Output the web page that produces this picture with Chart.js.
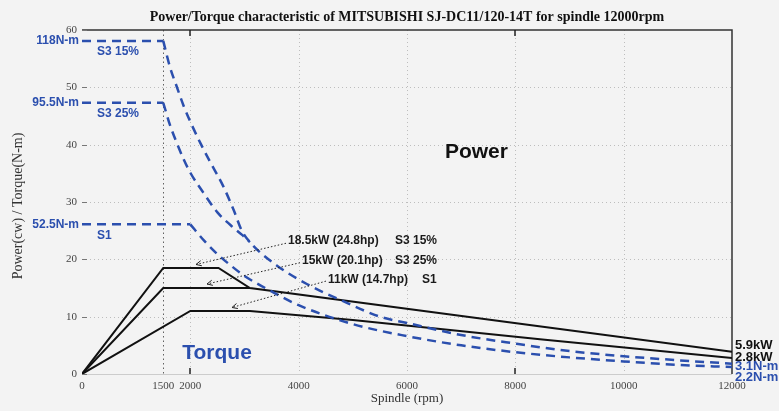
<!DOCTYPE html>
<html><head><meta charset="utf-8">
<script src="https://cdn.jsdelivr.net/npm/chart.js@4/dist/chart.umd.min.js"></script>
<style>html,body{margin:0;padding:0;background:#f3f3f3;}#wrap{width:779px;height:411px;position:relative;}canvas{display:block;}</style>
</head><body><div id="wrap"><canvas id="c" width="779" height="411" style="width:779px;height:411px"></canvas></div>
<script>
// ---- tick labels
const xTicks = [0, 1500, 2000, 4000, 6000, 8000, 10000, 12000];
const yTicks = [0, 10, 20, 30, 40, 50, 60];

// ---- power curves (kW) : rpm / value
const pwrRpmS3_15 = [0, 1500, 2520, 3100, 12000];
const pwrS3_15    = [0, 18.5, 18.5, 15.0, 3.9];
const pwrRpmS3_25 = [0, 1500, 3100];
const pwrS3_25    = [0, 15.0, 15.0];
const pwrRpmS1    = [0, 2000, 3100, 5000, 8500, 12000];
const pwrS1       = [0, 11.0, 11.0, 9.4, 6.0, 2.8];

// ---- torque curves (plotted on same axis, about N-m / 2)
const trqFlatRpmS3_15 = [0, 1500];
const trqFlatS3_15    = [58.1, 58.1];
const trqFlatRpmS3_25 = [0, 1500];
const trqFlatS3_25    = [47.3, 47.3];
const trqFlatRpmS1    = [0, 2000];
const trqFlatS1       = [26.1, 26.1];

const trqRpmS3_15 = [1500, 1625, 1750, 1875, 2000, 2200, 2400, 2600, 2800, 2950, 3100, 3600, 4150, 4800, 5500, 6000, 7000, 8000, 9000, 10000, 11000, 12000];
const trqS3_15    = [58.1, 53.5, 50.1, 46.8, 44.0, 40.0, 36.4, 32.9, 28.6, 25.0, 23.0, 18.9, 15.7, 12.8, 10.0, 8.9, 6.8, 5.3, 4.0, 3.1, 2.4, 1.8];
const trqRpmS3_25 = [1500, 1625, 1750, 1875, 2000, 2250, 2500, 2750, 2950, 3100];
const trqS3_25    = [47.3, 43.4, 40.3, 37.5, 35.1, 31.5, 28.2, 25.9, 24.3, 23.0];
const trqRpmS1    = [2000, 2250, 2500, 2750, 3000, 3500, 4000, 5000, 6000, 7000, 8000, 9000, 10000, 11000, 12000];
const trqS1       = [26.1, 23.3, 20.9, 18.9, 17.1, 14.4, 12.0, 8.7, 6.6, 5.0, 3.8, 2.9, 2.2, 1.6, 1.2];

const BLUE = '#2b4fae';
const zip = (xs, ys) => xs.map((x, i) => ({x: x, y: ys[i]}));

function blackLine(label, xs, ys) {
  return {label, data: zip(xs, ys), borderColor: '#111', borderWidth: 2, pointRadius: 0, tension: 0, order: 2};
}
function blueLine(label, xs, ys, curved) {
  return {label, data: zip(xs, ys), borderColor: BLUE, borderWidth: 2.5, borderDash: [9, 6], pointRadius: 0,
          cubicInterpolationMode: curved ? 'monotone' : 'default', tension: 0, order: 1};
}

const annotations = {
  leftLabels: [
    {text: '118N-m', y: 58.1, sub: 'S3 15%'},
    {text: '95.5N-m', y: 47.3, sub: 'S3 25%'},
    {text: '52.5N-m', y: 26.1, sub: 'S1'}
  ],
  arrows: [
    {label: '18.5kW (24.8hp)', tag: 'S3 15%', tagx: 5778, tx: 3803, ty: 23.2, ax: 3766, ay: 22.8, bx: 2105, by: 19.1},
    {label: '15kW (20.1hp)',   tag: 'S3 25%', tagx: 5778, tx: 4061, ty: 19.7, ax: 4024, ay: 19.4, bx: 2308, by: 15.7},
    {label: '11kW (14.7hp)',   tag: 'S1',     tagx: 6277, tx: 4541, ty: 16.5, ax: 4504, ay: 16.2, bx: 2769, by: 11.6}
  ],
  rightLabels: [
    {text: '5.9kW', color: '#111', dy: -29},
    {text: '2.8kW', color: '#111', dy: -17},
    {text: '3.1N-m', color: BLUE, dy: -8},
    {text: '2.2N-m', color: BLUE, dy: 3}
  ]
};

const decor = {
  id: 'decor',
  beforeDatasetsDraw(chart) {
    const {ctx, chartArea: a, scales: {x, y}} = chart;
    ctx.save();
    ctx.lineWidth = 1;
    ctx.setLineDash([1, 3]);
    ctx.strokeStyle = 'rgba(0,0,0,0.22)';
    xTicks.forEach(v => {
      if (v === 0 || v === 12000 || v === 1500) return;
      const px = Math.round(x.getPixelForValue(v)) + 0.5;
      ctx.beginPath(); ctx.moveTo(px, a.top); ctx.lineTo(px, a.bottom); ctx.stroke();
    });
    yTicks.forEach(v => {
      if (v === 0 || v === 60) return;
      const py = Math.round(y.getPixelForValue(v)) + 0.5;
      ctx.beginPath(); ctx.moveTo(a.left, py); ctx.lineTo(a.right, py); ctx.stroke();
    });
    ctx.strokeStyle = 'rgba(0,0,0,0.6)';
    ctx.setLineDash([1.5, 3]);
    const p15 = Math.round(x.getPixelForValue(1500)) + 0.5;
    ctx.beginPath(); ctx.moveTo(p15, a.top); ctx.lineTo(p15, a.bottom); ctx.stroke();
    ctx.setLineDash([]);
    // frame
    ctx.strokeStyle = '#333'; ctx.lineWidth = 1.5;
    ctx.beginPath(); ctx.moveTo(a.left, a.top); ctx.lineTo(a.right, a.top); ctx.lineTo(a.right, a.bottom); ctx.stroke();
    ctx.strokeStyle = '#ccc'; ctx.lineWidth = 1;
    ctx.beginPath(); ctx.moveTo(a.left, a.bottom + 0.5); ctx.lineTo(a.right, a.bottom + 0.5); ctx.stroke();
    // tick marks
    ctx.strokeStyle = '#222'; ctx.lineWidth = 1.5;
    [2000, 8000].forEach(v => {
      const px = Math.round(x.getPixelForValue(v));
      ctx.beginPath(); ctx.moveTo(px, a.top); ctx.lineTo(px, a.top + 6); ctx.stroke();
      ctx.beginPath(); ctx.moveTo(px, a.bottom); ctx.lineTo(px, a.bottom - 6); ctx.stroke();
    });
    ctx.strokeStyle = '#777'; ctx.lineWidth = 1;
    yTicks.forEach(v => {
      const py = Math.round(y.getPixelForValue(v)) + 0.5;
      ctx.beginPath(); ctx.moveTo(a.left, py); ctx.lineTo(a.left + 5, py); ctx.stroke();
    });
    ctx.restore();
  },
  afterDraw(chart) {
    const {ctx, chartArea: a, scales: {x, y}} = chart;
    ctx.save();
    ctx.textBaseline = 'middle';
    // title
    ctx.fillStyle = '#111';
    ctx.font = 'bold 14px "Liberation Serif", serif';
    ctx.textAlign = 'center';
    ctx.fillText('Power/Torque characteristic of MITSUBISHI SJ-DC11/120-14T for spindle 12000rpm', (a.left + a.right) / 2, 17);
    // axis titles
    ctx.fillStyle = '#333';
    ctx.font = '13px "Liberation Serif", serif';
    ctx.fillText('Spindle (rpm)', (a.left + a.right) / 2, 399);
    ctx.save();
    ctx.translate(18, 206); ctx.rotate(-Math.PI / 2);
    ctx.font = '14px "Liberation Serif", serif';
    ctx.fillText('Power(cw) / Torque(N-m)', 0, 0);
    ctx.restore();
    // left labels
    ctx.fillStyle = BLUE;
    ctx.font = 'bold 12px "Liberation Sans", Arial, sans-serif';
    annotations.leftLabels.forEach(l => {
      const py = y.getPixelForValue(l.y);
      ctx.textAlign = 'right';
      ctx.fillText(l.text, a.left - 3, py);
      ctx.textAlign = 'left';
      ctx.fillText(l.sub, a.left + 15, py + 11);
    });
    // big labels
    ctx.font = 'bold 21px "Liberation Sans", Arial, sans-serif';
    ctx.textAlign = 'left';
    ctx.fillStyle = '#111';
    ctx.fillText('Power', x.getPixelForValue(6700), y.getPixelForValue(38.7));
    ctx.fillStyle = BLUE;
    ctx.fillText('Torque', x.getPixelForValue(1850), y.getPixelForValue(3.7));
    // arrows
    annotations.arrows.forEach(ar => {
      ctx.fillStyle = '#1a1a1a';
      ctx.font = 'bold 12px "Liberation Sans", Arial, sans-serif';
      ctx.textAlign = 'left';
      ctx.fillText(ar.label, x.getPixelForValue(ar.tx), y.getPixelForValue(ar.ty));
      ctx.fillText(ar.tag, x.getPixelForValue(ar.tagx), y.getPixelForValue(ar.ty));
      const x1 = x.getPixelForValue(ar.ax), y1 = y.getPixelForValue(ar.ay);
      const x2 = x.getPixelForValue(ar.bx), y2 = y.getPixelForValue(ar.by);
      ctx.strokeStyle = '#222'; ctx.lineWidth = 1;
      ctx.setLineDash([1.5, 2]);
      ctx.beginPath(); ctx.moveTo(x1, y1); ctx.lineTo(x2, y2); ctx.stroke();
      ctx.setLineDash([]);
      const ang = Math.atan2(y2 - y1, x2 - x1);
      ctx.beginPath();
      ctx.moveTo(x2 - 6 * Math.cos(ang - 0.45), y2 - 6 * Math.sin(ang - 0.45));
      ctx.lineTo(x2, y2);
      ctx.lineTo(x2 - 6 * Math.cos(ang + 0.45), y2 - 6 * Math.sin(ang + 0.45));
      ctx.stroke();
    });
    // right labels
    ctx.font = 'bold 13px "Liberation Sans", Arial, sans-serif';
    ctx.textAlign = 'left';
    annotations.rightLabels.forEach(l => {
      ctx.fillStyle = l.color;
      ctx.fillText(l.text, a.right + 3, a.bottom + l.dy);
    });
    ctx.restore();
  }
};

new Chart(document.getElementById('c'), {
  type: 'line',
  data: {
    datasets: [
      blackLine('P S3 15%', pwrRpmS3_15, pwrS3_15),
      blackLine('P S3 25%', pwrRpmS3_25, pwrS3_25),
      blackLine('P S1', pwrRpmS1, pwrS1),
      blueLine('T S3 15% flat', trqFlatRpmS3_15, trqFlatS3_15, false),
      blueLine('T S3 25% flat', trqFlatRpmS3_25, trqFlatS3_25, false),
      blueLine('T S1 flat', trqFlatRpmS1, trqFlatS1, false),
      blueLine('T S3 15%', trqRpmS3_15, trqS3_15, true),
      blueLine('T S3 25%', trqRpmS3_25, trqS3_25, true),
      blueLine('T S1', trqRpmS1, trqS1, true)
    ]
  },
  options: {
    responsive: false,
    animation: false,
    devicePixelRatio: 1,
    layout: {padding: {top: 30, right: 47, left: 0, bottom: 0}},
    plugins: {legend: {display: false}, tooltip: {enabled: false}, title: {display: false}},
    scales: {
      x: {
        type: 'linear', min: 0, max: 12000,
        grid: {display: false, drawTicks: false},
        border: {display: false},
        afterBuildTicks: s => { s.ticks = xTicks.map(v => ({value: v})); },
        afterFit: s => { s.height = 37; },
        ticks: {autoSkip: false, maxRotation: 0, padding: 6, color: '#444',
                font: {family: '"Liberation Serif", serif', size: 11},
                callback: v => String(v)}
      },
      y: {
        type: 'linear', min: 0, max: 60,
        grid: {display: false, drawTicks: false},
        border: {display: false},
        afterBuildTicks: s => { s.ticks = yTicks.map(v => ({value: v})); },
        afterFit: s => { s.width = 82; },
        ticks: {padding: 5, color: '#444', font: {family: '"Liberation Serif", serif', size: 11},
                callback: v => String(v)}
      }
    }
  },
  plugins: [decor]
});
</script>
</body></html>
